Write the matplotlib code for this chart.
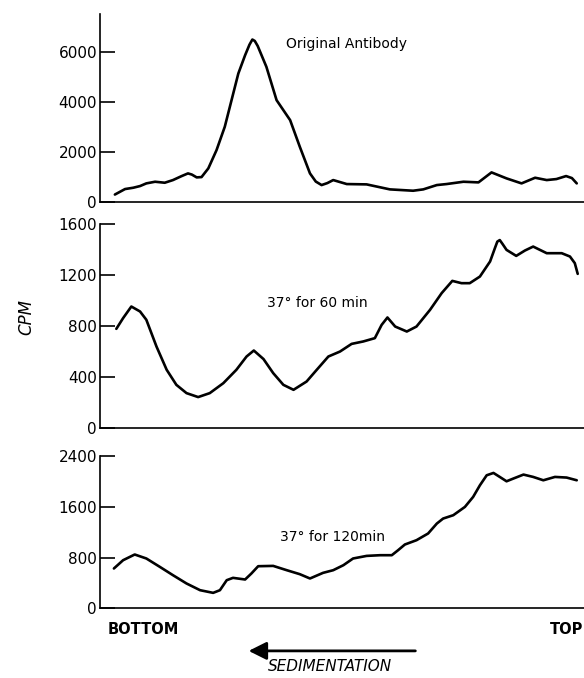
import matplotlib
matplotlib.use("Agg")
import matplotlib.pyplot as plt

# fraction position along gradient (0 = axis, 100 = right edge)
x1 = [3.1, 5.2, 6.9, 8.3, 9.6, 11.4, 13.4, 15.1, 16.9, 18.2, 19.0, 20.0, 21.0, 22.4, 24.1,
      25.8, 27.2, 28.6, 30.0, 30.9, 31.5, 32.0, 32.6, 34.4, 36.5, 37.9, 39.3, 41.3, 43.4,
      44.6, 45.8, 47.0, 48.2, 51.0, 55.1, 59.9, 64.7, 66.8, 69.6, 71.6, 75.1, 78.2, 80.9,
      84.0, 87.1, 89.9, 92.3, 94.3, 96.3, 97.5, 98.5]
y1 = [300, 520, 573, 640, 747, 813, 773, 880, 1040, 1147, 1100, 987, 1000, 1347, 2080,
      3013, 4080, 5147, 5880, 6300, 6507, 6450, 6250, 5413, 4080, 3680, 3280, 2213, 1147,
      820, 680, 760, 880, 720, 707, 507, 453, 507, 680, 720, 813, 787, 1187, 947,
      747, 973, 880, 920, 1040, 960, 747]

x2 = [3.4, 4.8, 6.5, 8.3, 9.6, 11.7, 13.8, 15.8, 17.9, 20.3, 22.7, 25.5, 28.2, 30.3, 31.8,
      33.8, 35.8, 37.9, 40.0, 42.7, 44.8, 47.2, 49.6, 52.0, 54.4, 56.8, 58.2, 59.4, 61.0,
      63.4, 65.4, 68.2, 70.6, 72.8, 74.7, 76.4, 78.5, 80.6, 81.6, 82.1, 82.6, 83.2, 84.0,
      86.0, 87.8, 89.5, 92.3, 95.4, 97.1, 98.1, 98.7]
y2 = [776, 860, 951, 912, 847, 637, 455, 337, 272, 241, 272, 350, 455, 559, 606,
      539, 429, 337, 298, 363, 455, 559, 598, 658, 677, 703, 807, 865, 794,
      755, 794, 925, 1056, 1152, 1134, 1134, 1186, 1304, 1409, 1460, 1472, 1440, 1395,
      1348, 1390, 1421, 1369, 1369, 1343, 1291, 1207]

x3 = [2.9, 4.8, 7.2, 9.6, 12.4, 15.1, 17.9, 20.7, 23.4, 24.8, 26.2, 27.5, 30.0, 31.3,
      32.7, 35.8, 38.6, 41.3, 43.4, 46.1, 48.2, 50.3, 52.3, 55.1, 57.9, 60.3, 61.6, 63.0,
      65.4, 67.8, 69.6, 70.9, 73.0, 75.4, 77.1, 78.5, 79.9, 81.3, 82.6, 84.0, 85.4, 87.5,
      89.5, 91.6, 94.0, 96.4, 98.5]
y3 = [627, 758, 848, 785, 652, 521, 390, 284, 242, 284, 442, 479, 453, 548,
      663, 668, 600, 537, 469, 558, 600, 679, 785, 826, 837, 837, 916, 1006,
      1074, 1180, 1337, 1416, 1469, 1600, 1758, 1942, 2100, 2137, 2074, 2005, 2048, 2111,
      2074, 2021, 2074, 2064, 2021]

panels = [
    (x1, y1, [0, 2000, 4000, 6000], 7520, "Original Antibody", (51, 0.84)),
    (x2, y2, [0, 400, 800, 1200, 1600], 1600, "37° for 60 min", (45, 0.61)),
    (x3, y3, [0, 800, 1600, 2400], 2400, "37° for 120min", (48, 0.47)),
]
boxes = [[0.171, 0.702, 0.829, 0.277],
         [0.171, 0.369, 0.829, 0.301],
         [0.171, 0.103, 0.829, 0.224]]

fig = plt.figure(figsize=(5.84, 6.78), dpi=100)

for (xs, ys, ticks, top, label, lpos), box in zip(panels, boxes):
    ax = fig.add_axes(box)
    ax.plot(xs, ys, color="black", lw=1.9, solid_joinstyle="round", solid_capstyle="round")
    ax.set_xlim(0, 100)
    ax.set_ylim(0, top)
    ax.set_yticks(ticks)
    ax.set_yticklabels([str(t) for t in ticks], fontsize=11)
    ax.set_xticks([])
    ax.spines["top"].set_visible(False)
    ax.spines["right"].set_visible(False)
    ax.spines["left"].set_linewidth(1.2)
    ax.spines["bottom"].set_linewidth(1.2)
    ax.tick_params(axis="y", direction="in", length=11, width=1.2, pad=2)
    ax.text(lpos[0], top * lpos[1], label, ha="center", va="center", fontsize=10)

fig.text(0.045, 0.532, "CPM", rotation=90, style="italic", fontsize=12,
         ha="center", va="center")
fig.text(0.185, 0.071, "BOTTOM", fontsize=10.5, fontweight="bold", ha="left", va="center")
fig.text(0.999, 0.071, "TOP", fontsize=10.5, fontweight="bold", ha="right", va="center")
fig.text(0.565, 0.017, "SEDIMENTATION", style="italic", fontsize=11,
         ha="center", va="center")
fig.add_artist(matplotlib.patches.FancyArrowPatch(
    (0.716, 0.040), (0.421, 0.040), transform=fig.transFigure,
    arrowstyle="-|>,head_length=0.6,head_width=0.3", mutation_scale=18,
    color="black", lw=2))

fig.savefig("out.png", dpi=100)
